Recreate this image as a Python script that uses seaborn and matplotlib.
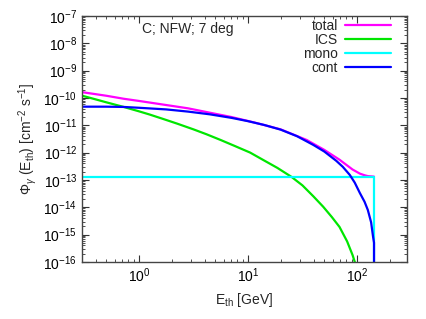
import numpy as np
import pandas as pd
import matplotlib
matplotlib.use("Agg")
import matplotlib.pyplot as plt
import seaborn as sns
from matplotlib.ticker import LogLocator, NullFormatter, FuncFormatter

# ---- data (log10 values) ----
mass = 143.5  # GeV, cutoff

logE_cont = [-0.52, -0.30, -0.14, 0.00, 0.25, 0.45, 0.65, 0.85, 1.00, 1.15, 1.30, 1.45,
             1.60, 1.70, 1.81, 1.87, 1.935, 1.98, 2.027, 2.07, 2.10, 2.13, 2.148]
log_cont = [-10.32, -10.32, -10.33, -10.36, -10.42, -10.50, -10.60, -10.73, -10.85, -10.99,
            -11.16, -11.40, -11.72, -11.96, -12.30, -12.52, -12.82, -13.10, -13.48, -13.80,
            -14.10, -14.55, -15.08]

logE_ics = [-0.52, -0.40, -0.30, -0.14, 0.00, 0.10, 0.23, 0.35, 0.50, 0.62, 0.75, 0.88,
            1.02, 1.14, 1.27, 1.40, 1.50, 1.60, 1.69, 1.77, 1.84, 1.91, 1.96, 1.98, 2.00]
log_ics = [-9.92, -10.05, -10.16, -10.33, -10.49, -10.61, -10.78, -10.94, -11.15, -11.33,
           -11.54, -11.76, -12.00, -12.27, -12.56, -12.89, -13.20, -13.60, -13.98, -14.36,
           -14.72, -15.25, -15.75, -16.00, -16.25]

logE_total = [-0.52, -0.30, -0.14, 0.00, 0.25, 0.45, 0.65, 0.85, 1.07, 1.30, 1.54, 1.70,
              1.84, 1.90, 1.96, 2.027, 2.07, 2.10, 2.157]
log_total = [-9.79, -9.92, -10.03, -10.11, -10.26, -10.38, -10.54, -10.70, -10.91, -11.15,
             -11.54, -11.90, -12.26, -12.44, -12.62, -12.77, -12.83, -12.86, -12.88]

mono_level = 1.3e-13
floor = 1e-18  # flux after the cutoff (below the plotted range)

labels = ["total", "ICS", "mono", "cont"]
colors = ["#ff00ff", "#00e600", "#00ffff", "#0000ff"]

# ---- build tables ----
E_cont = list(10 ** np.array(logE_cont)) + [mass, mass]
F_cont = list(10 ** np.array(log_cont)) + [10 ** -15.3, floor]
E_ics = list(10 ** np.array(logE_ics))
F_ics = list(10 ** np.array(log_ics))
E_tot = list(10 ** np.array(logE_total))
F_tot = list(10 ** np.array(log_total))
E_mono = [0.3, mass, mass]
F_mono = [mono_level, mono_level, floor]

frames = []
for lab, E, F in zip(labels, [E_tot, E_ics, E_mono, E_cont], [F_tot, F_ics, F_mono, F_cont]):
    frames.append(pd.DataFrame({"E": E, "F": F, "series": lab}))
df = pd.concat(frames, ignore_index=True)

sns.set_theme(style="ticks")
plt.rcParams["font.family"] = ["Liberation Sans", "DejaVu Sans"]
plt.rcParams["mathtext.fontset"] = "custom"
plt.rcParams["mathtext.rm"] = "Liberation Sans"
plt.rcParams["mathtext.it"] = "Liberation Sans:italic"
plt.rcParams["mathtext.sf"] = "Liberation Sans"

fig = plt.figure(figsize=(4.27, 3.19), dpi=100)
ax = fig.add_axes([0.192, 0.179, 0.760, 0.771])

sns.lineplot(data=df, x="E", y="F", hue="series", hue_order=labels,
             palette=dict(zip(labels, colors)), estimator=None, sort=False,
             units="series", linewidth=1.6, ax=ax, legend=True)

ax.set_xscale("log")
ax.set_yscale("log")
ax.set_xlim(0.3, 285)
ax.set_ylim(1e-16, 1e-7)

def fmt(v, pos):
    e = int(round(np.log10(v)))
    return r"$10^{%d}$" % e

ax.xaxis.set_major_locator(LogLocator(base=10, numticks=20))
ax.xaxis.set_minor_locator(LogLocator(base=10, subs=np.arange(2, 10), numticks=100))
ax.yaxis.set_major_locator(LogLocator(base=10, numticks=20))
ax.yaxis.set_minor_locator(LogLocator(base=10, subs=np.arange(2, 10), numticks=100))
ax.xaxis.set_major_formatter(FuncFormatter(fmt))
ax.yaxis.set_major_formatter(FuncFormatter(fmt))
ax.xaxis.set_minor_formatter(NullFormatter())
ax.yaxis.set_minor_formatter(NullFormatter())

ax.tick_params(which="both", direction="in", top=True, right=True, colors="#333333",
               labelcolor="black", labelsize=10)
ax.tick_params(which="major", length=5, width=0.8)
ax.tick_params(which="minor", length=2.5, width=0.6)
for s in ax.spines.values():
    s.set_color("#444444")
    s.set_linewidth(1.0)

ax.set_xlabel(r"E$_{\rm th}$ [GeV]", fontsize=10, labelpad=4)
ax.set_ylabel(r"$\Phi_\gamma$ (E$_{\rm th}$) [cm$^{-2}$ s$^{-1}$]", fontsize=10, labelpad=3)

ax.text(0.185, 0.945, "C; NFW; 7 deg", transform=ax.transAxes, fontsize=10,
        ha="left", va="center")

leg = ax.legend(loc="upper right", bbox_to_anchor=(0.952, 0.987), frameon=False,
                markerfirst=False, fontsize=10, handlelength=3.3, labelspacing=0.0,
                handletextpad=0.5, borderaxespad=0.0, borderpad=0.0)
for h in leg.get_lines():
    h.set_linewidth(1.6)

fig.savefig("out.png", dpi=100)
